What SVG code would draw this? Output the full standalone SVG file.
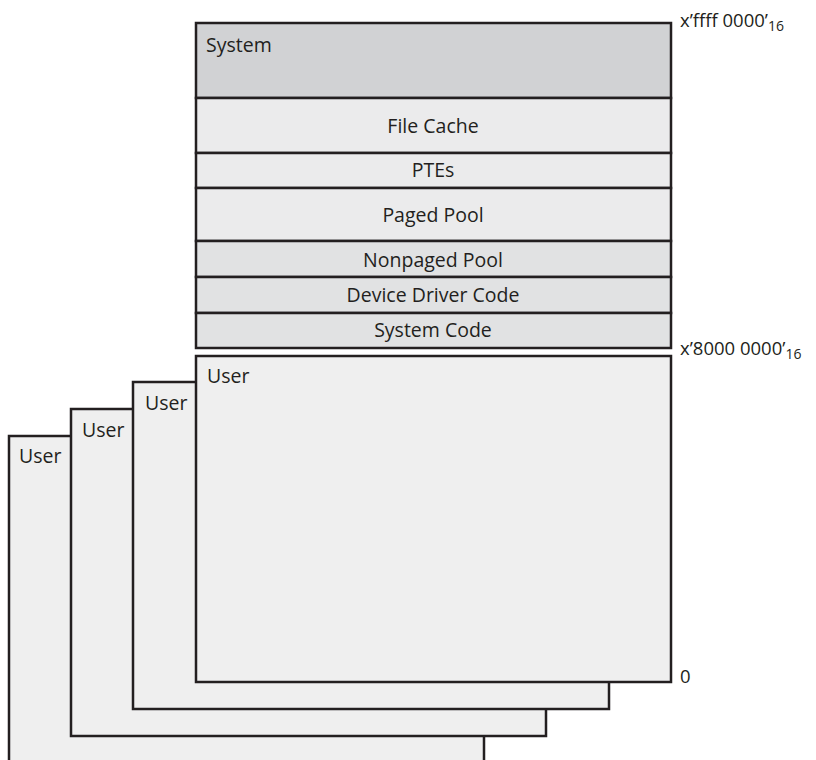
<svg xmlns="http://www.w3.org/2000/svg" width="816" height="760" viewBox="0 0 816 760">
<style>
.b{stroke:#231f20;stroke-width:2.5}
.t{font-family:"Open Sans","Noto Sans","Liberation Sans",sans-serif;font-size:19.5px;fill:#231f20}
.a{font-size:18.5px}
.c{text-anchor:middle}
.u{fill:#efefef}
</style>
<rect width="816" height="760" fill="#ffffff"/>
<g id="user4"><rect class="b u" x="9" y="436" width="475" height="330"/><text class="t" x="19" y="463">User</text></g>
<g id="user3"><rect class="b u" x="71" y="409" width="475" height="327"/><text class="t" x="82" y="437">User</text></g>
<g id="user2"><rect class="b u" x="133" y="382" width="476" height="327"/><text class="t" x="145" y="410">User</text></g>
<g id="user1"><rect class="b u" x="196" y="356" width="475" height="326"/><text class="t" x="207" y="383">User</text></g>
<g id="system"><rect class="b" x="196" y="23" width="475" height="75" fill="#d1d2d4"/><text class="t" x="206" y="52">System</text></g>
<g id="filecache"><rect class="b" x="196" y="98" width="475" height="55" fill="#ebebec"/><text class="t c" x="433" y="133">File Cache</text></g>
<g id="ptes"><rect class="b" x="196" y="153" width="475" height="35" fill="#ebebec"/><text class="t c" x="433" y="177">PTEs</text></g>
<g id="pagedpool"><rect class="b" x="196" y="188" width="475" height="53" fill="#ebebec"/><text class="t c" x="433" y="222">Paged Pool</text></g>
<g id="nonpagedpool"><rect class="b" x="196" y="241" width="475" height="36" fill="#e1e2e3"/><text class="t c" x="433" y="267">Nonpaged Pool</text></g>
<g id="devicedriver"><rect class="b" x="196" y="277" width="475" height="36" fill="#e1e2e3"/><text class="t c" x="433" y="302">Device Driver Code</text></g>
<g id="systemcode"><rect class="b" x="196" y="313" width="475" height="35" fill="#e1e2e3"/><text class="t c" x="433" y="337">System Code</text></g>
<g id="labels">
<text class="t a" x="680" y="27">x’ffff 0000’<tspan font-size="14" dy="4">16</tspan></text>
<text class="t a" x="680" y="355">x’8000 0000’<tspan font-size="14" dy="4">16</tspan></text>
<text class="t a" x="680" y="683">0</text>
</g>
<g id="connectors"></g>
</svg>
